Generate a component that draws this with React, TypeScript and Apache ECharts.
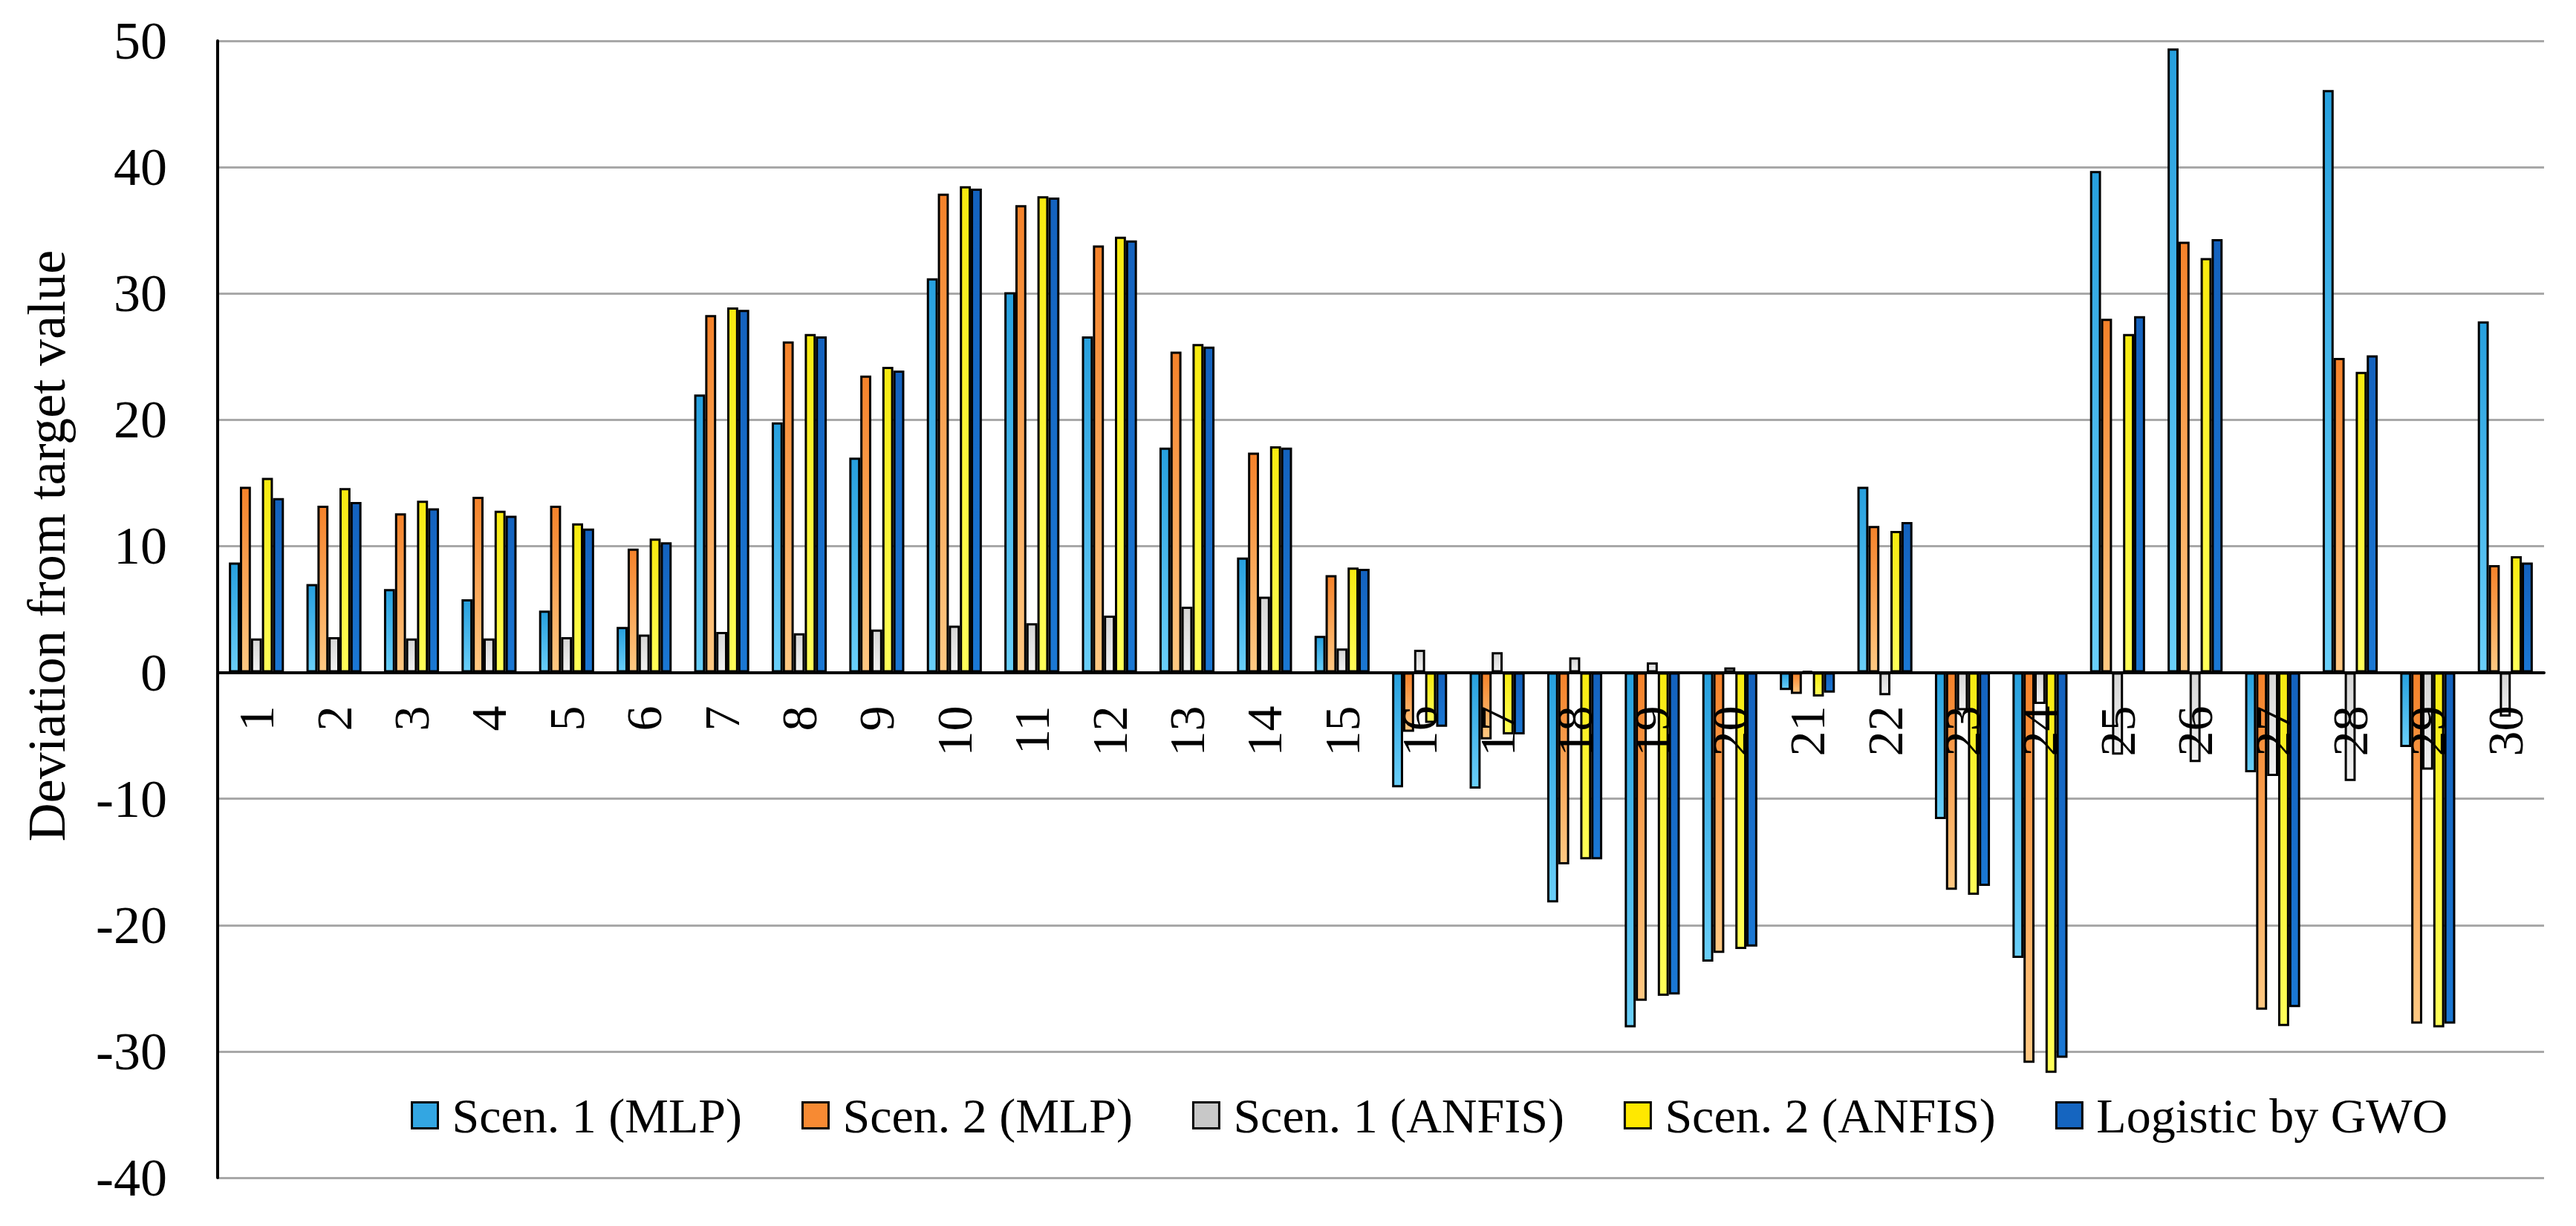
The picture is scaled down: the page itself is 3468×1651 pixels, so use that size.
import React, { useEffect, useRef } from "react";
import * as echarts from "echarts";

const categories = Array.from({ length: 30 }, (_, i) => String(i + 1));

const seriesNames = [
  "Scen. 1 (MLP)",
  "Scen. 2 (MLP)",
  "Scen. 1 (ANFIS)",
  "Scen. 2 (ANFIS)",
  "Logistic by GWO",
];

const scen1MLP = [8.7, 7.0, 6.6, 5.8, 4.9, 3.6, 22.0, 19.8, 17.0, 31.2, 30.1, 26.6, 17.8, 9.1, 2.9, -9.1, -9.2, -18.2, -28.1, -22.9, -1.4, 14.7, -11.6, -22.6, 39.7, 49.4, -7.9, 46.1, -5.9, 27.8];
const scen2MLP = [14.7, 13.2, 12.6, 13.9, 13.2, 9.8, 28.3, 26.2, 23.5, 37.9, 37.0, 33.8, 25.4, 17.4, 7.7, -4.7, -5.3, -15.2, -26.0, -22.2, -1.7, 11.6, -17.2, -30.9, 28.0, 34.1, -26.7, 24.9, -27.8, 8.5];
const scen1ANFIS = [2.7, 2.8, 2.7, 2.7, 2.8, 3.0, 3.2, 3.1, 3.4, 3.7, 3.9, 4.5, 5.2, 6.0, 1.9, 1.8, 1.6, 1.2, 0.8, 0.4, 0.1, -1.8, -3.0, -2.5, -6.5, -7.1, -8.2, -8.6, -7.7, -3.5];
const scen2ANFIS = [15.4, 14.6, 13.6, 12.8, 11.8, 10.6, 28.9, 26.8, 24.2, 38.5, 37.7, 34.5, 26.0, 17.9, 8.3, -4.0, -4.9, -14.8, -25.6, -21.9, -1.9, 11.2, -17.6, -31.7, 26.8, 32.8, -28.0, 23.8, -28.1, 9.2];
const logisticGWO = [13.8, 13.5, 13.0, 12.4, 11.4, 10.3, 28.7, 26.6, 23.9, 38.3, 37.6, 34.2, 25.8, 17.8, 8.2, -4.3, -4.9, -14.8, -25.5, -21.7, -1.6, 11.9, -16.9, -30.5, 28.2, 34.3, -26.5, 25.1, -27.8, 8.7];

const yMin = -40;
const yMax = 50;
const yStep = 10;

const FONT = "'Liberation Serif', 'Times New Roman', serif";

const grad = (top: string, bottom: string) =>
  new echarts.graphic.LinearGradient(0, 0, 0, 1, [
    { offset: 0, color: top },
    { offset: 1, color: bottom },
  ]);

export default function App() {
  const ref = useRef<HTMLDivElement>(null);
  useEffect(() => {
    if (!ref.current) return;
    const chart = echarts.init(ref.current, null, { renderer: "svg" });
    const allData = [scen1MLP, scen2MLP, scen1ANFIS, scen2ANFIS, logisticGWO];
    const fills = [
      grad("#27a0de", "#6acff9"),
      grad("#f5822a", "#ffc983"),
      grad("#d6d6d6", "#f2f2f2"),
      grad("#f7ea10", "#ffff5a"),
      grad("#1462be", "#1b78d4"),
    ];
    const legendColors = ["#33a6e2", "#f78a33", "#c8c8c8", "#ffe800", "#1565c0"];
    // zero position of the value axis, used to size a label-only grid whose bottom sits on y = 0
    const top = 55;
    const plotH = 1651 - 55 - 65;
    const zeroH = (plotH * yMax) / (yMax - yMin);
    chart.setOption({
      animation: false,
      backgroundColor: "#ffffff",
      grid: [
        { left: 293, right: 43, top: top, bottom: 65, containLabel: false },
        { left: 293, right: 43, top: top, height: zeroH, containLabel: false },
      ],
      legend: {
        left: 548,
        top: 1457,
        itemWidth: 35,
        itemHeight: 35,
        itemGap: 80,
        icon: "rect",
        data: seriesNames.map((n, i) => ({
          name: n,
          itemStyle: { color: legendColors[i], borderColor: "#000", borderWidth: 3 },
        })),
        textStyle: {
          fontFamily: FONT,
          fontSize: 66,
          color: "#000",
          lineHeight: 80,
          padding: [0, 0, 0, 14],
        },
      },
      xAxis: [
        {
          type: "category",
          gridIndex: 0,
          data: categories,
          axisLine: { onZero: true, lineStyle: { color: "#000", width: 4 } },
          axisTick: { show: false },
          axisLabel: { show: false },
          splitLine: { show: false },
        },
        {
          type: "category",
          gridIndex: 1,
          data: categories,
          z: 10,
          axisLine: { show: false },
          axisTick: { show: false },
          axisLabel: {
            interval: 0,
            rotate: 90,
            margin: 45,
            fontFamily: FONT,
            fontSize: 68,
            color: "#000",
          },
          splitLine: { show: false },
        },
      ],
      yAxis: [
        {
          type: "value",
          gridIndex: 0,
          min: yMin,
          max: yMax,
          interval: yStep,
          axisLine: { show: true, lineStyle: { color: "#000", width: 4 } },
          axisTick: { show: false },
          axisLabel: {
            margin: 68,
            fontFamily: FONT,
            fontSize: 72,
            color: "#000",
          },
          splitLine: { show: true, lineStyle: { color: "#a8a8a8", width: 3 } },
        },
        {
          type: "value",
          gridIndex: 1,
          min: 0,
          max: yMax,
          show: false,
        },
      ],
      graphic: [
        {
          type: "text",
          x: 63,
          y: 735,
          rotation: Math.PI / 2,
          style: {
            text: "Deviation from target value",
            fontFamily: FONT,
            fontSize: 72,
            fill: "#000",
            align: "center",
            verticalAlign: "middle",
          },
        },
      ],
      series: seriesNames.map((n, i) => ({
        name: n,
        type: "bar",
        xAxisIndex: 0,
        yAxisIndex: 0,
        data: allData[i],
        barGap: "0%",
        barCategoryGap: "29%",
        itemStyle: { color: fills[i], borderColor: "#000", borderWidth: 3 },
      })),
    });
    return () => chart.dispose();
  }, []);
  return (
    <div
      ref={ref}
      style={{ position: "fixed", left: 0, top: 0, width: 3468, height: 1651, background: "#fff" }}
    />
  );
}
